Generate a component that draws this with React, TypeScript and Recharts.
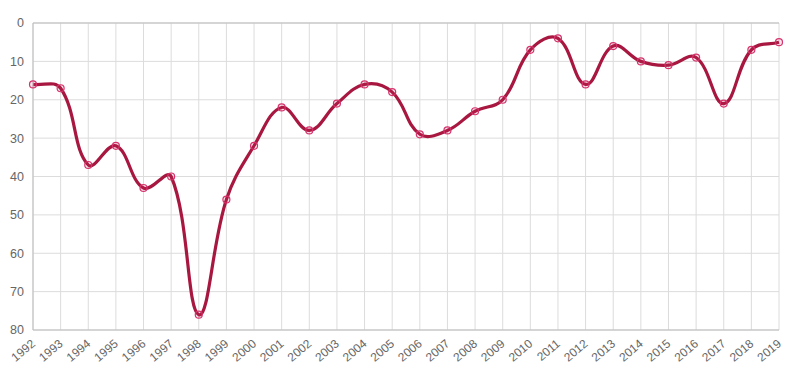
import React from 'react';
import { LineChart, Line, XAxis, YAxis, CartesianGrid, ReferenceLine } from 'recharts';

const years = [
  '1992', '1993', '1994', '1995', '1996', '1997', '1998', '1999', '2000', '2001',
  '2002', '2003', '2004', '2005', '2006', '2007', '2008', '2009', '2010', '2011',
  '2012', '2013', '2014', '2015', '2016', '2017', '2018', '2019',
];
const ranks = [
  16, 17, 37, 32, 43, 40, 76, 46, 32, 22,
  28, 21, 16, 18, 29, 28, 23, 20, 7, 4,
  16, 6, 10, 11, 9, 21, 7, 5,
];
const yTicks = [0, 10, 20, 30, 40, 50, 60, 70, 80];

const data = years.map((year, i) => ({ year, rank: ranks[i] }));

// spline like chart.js (tension 0.4) so the curve overshoots the same way
const splineCurve = (ctx: any) => {
  let pts: number[][] = [];
  const t = 0.4;
  return {
    areaStart() {},
    areaEnd() {},
    lineStart() { pts = []; },
    point(x: number, y: number) { pts.push([+x, +y]); },
    lineEnd() {
      if (!pts.length) return;
      const cps = pts.map((p, i) => {
        const prev = pts[i - 1] || p;
        const next = pts[i + 1] || p;
        const d01 = Math.hypot(p[0] - prev[0], p[1] - prev[1]);
        const d12 = Math.hypot(next[0] - p[0], next[1] - p[1]);
        let s01 = d01 / (d01 + d12);
        let s12 = d12 / (d01 + d12);
        if (isNaN(s01)) s01 = 0;
        if (isNaN(s12)) s12 = 0;
        const fa = t * s01;
        const fb = t * s12;
        return {
          prev: [p[0] - fa * (next[0] - prev[0]), p[1] - fa * (next[1] - prev[1])],
          next: [p[0] + fb * (next[0] - prev[0]), p[1] + fb * (next[1] - prev[1])],
        };
      });
      ctx.moveTo(pts[0][0], pts[0][1]);
      for (let i = 1; i < pts.length; i++) {
        const a = cps[i - 1].next;
        const b = cps[i].prev;
        ctx.bezierCurveTo(a[0], a[1], b[0], b[1], pts[i][0], pts[i][1]);
      }
    },
  };
};

const YearTick = (props: any) => {
  const { x, y, payload } = props;
  return (
    <g transform={`translate(${x + 3},${y + 7})`}>
      <text
        x={0}
        y={0}
        textAnchor="end"
        transform="rotate(-40)"
        fill="#666"
        fontSize={12}
        fontFamily="'Liberation Sans', Arial, sans-serif"
      >
        {payload.value}
      </text>
    </g>
  );
};

export default function App() {
  return (
    <div style={{ position: 'absolute', left: 0, top: 0, background: '#fff' }}>
      <LineChart
        width={798}
        height={377}
        data={data}
        margin={{ top: 23, right: 19, left: 0, bottom: 0 }}
      >
        <CartesianGrid stroke="#dcdcdc" />
        <XAxis
          dataKey="year"
          height={47}
          interval={0}
          tickLine={false}
          axisLine={{ stroke: '#bdbdbd' }}
          tick={<YearTick />}
        />
        <YAxis
          width={33}
          reversed
          domain={[0, 80]}
          ticks={yTicks}
          tickLine={false}
          tickMargin={3}
          axisLine={{ stroke: '#bdbdbd' }}
          tick={{ fill: '#666', fontSize: 12.5, fontFamily: "'Liberation Sans', Arial, sans-serif" }}
        />
        <ReferenceLine y={0} stroke="#bdbdbd" />
        <Line
          dataKey="rank"
          type={splineCurve as any}
          stroke="#a8173f"
          strokeWidth={3.2}
          dot={{ r: 3.5, stroke: '#d6336c', strokeWidth: 1.2, fill: 'rgba(214,51,108,0.12)' }}
          activeDot={false}
          isAnimationActive={false}
        />
      </LineChart>
    </div>
  );
}
